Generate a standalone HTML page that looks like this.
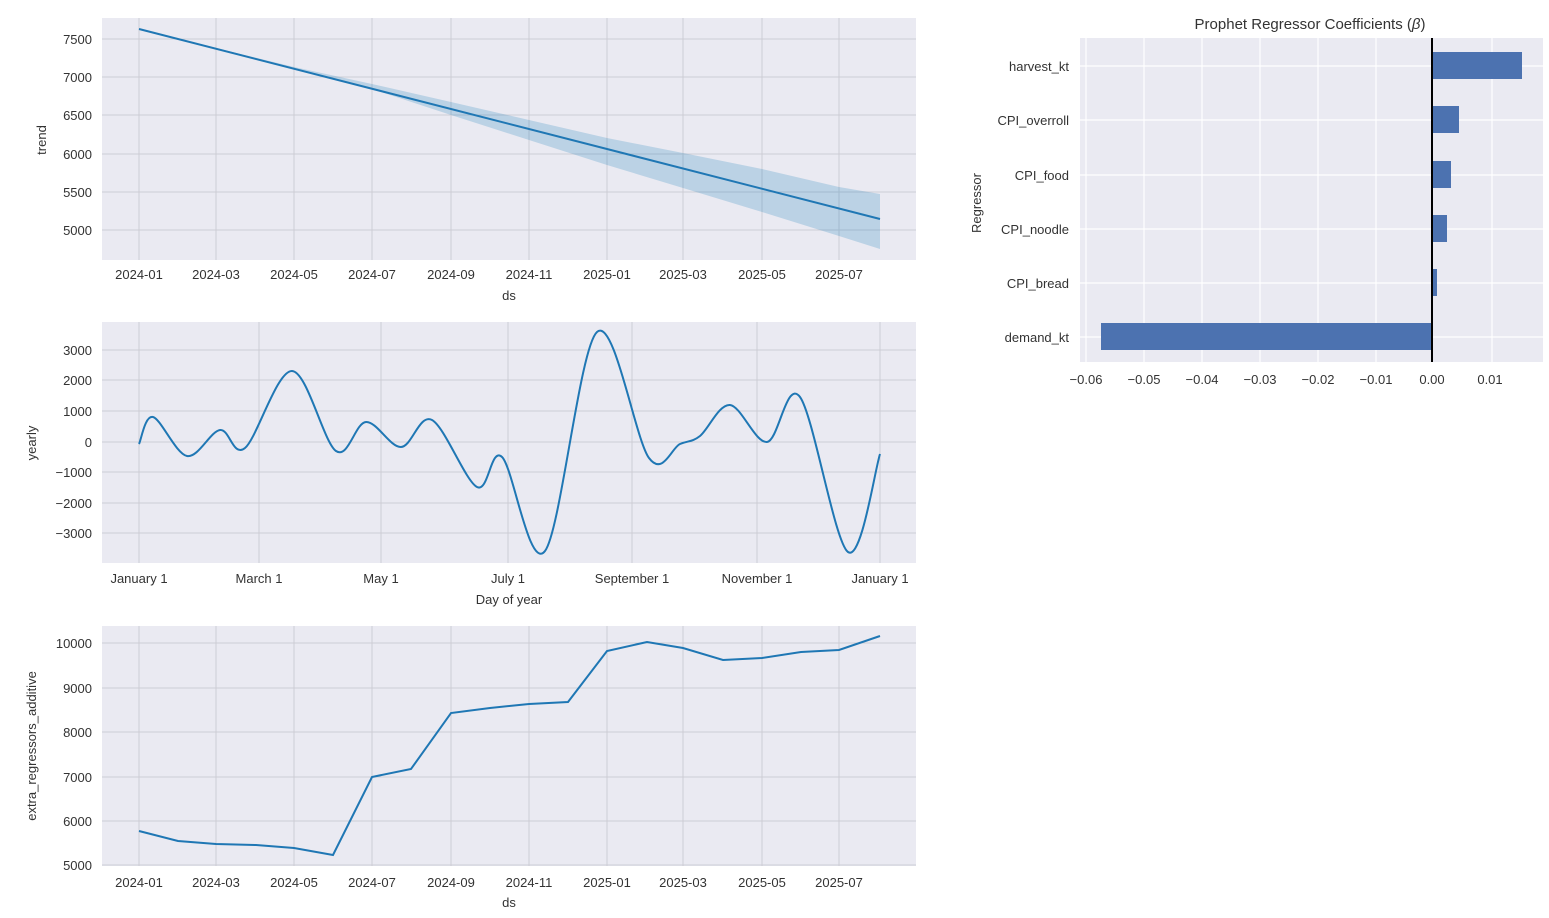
<!DOCTYPE html>
<html><head><meta charset="utf-8"><style>
body{margin:0;background:#fff;}
svg{display:block;font-family:"Liberation Sans","Noto Sans CJK JP",sans-serif;}
.t{font-size:13px;fill:#333;}
.g{stroke:#cccdd5;stroke-width:1;}
.w{stroke:#fff;stroke-width:1.2;}
</style></head><body>
<svg id="s" width="1549" height="918" viewBox="0 0 1549 918" xmlns="http://www.w3.org/2000/svg">
<!-- Panel 1 -->
<rect x="102" y="18" width="814" height="242" fill="#eaeaf2"/>
<g class="g">
<line x1="139" y1="18" x2="139" y2="260"/><line x1="216" y1="18" x2="216" y2="260"/><line x1="294" y1="18" x2="294" y2="260"/><line x1="372" y1="18" x2="372" y2="260"/><line x1="451" y1="18" x2="451" y2="260"/><line x1="529" y1="18" x2="529" y2="260"/><line x1="607" y1="18" x2="607" y2="260"/><line x1="683" y1="18" x2="683" y2="260"/><line x1="762" y1="18" x2="762" y2="260"/><line x1="839" y1="18" x2="839" y2="260"/>
<line x1="102" y1="39" x2="916" y2="39"/><line x1="102" y1="77" x2="916" y2="77"/><line x1="102" y1="115" x2="916" y2="115"/><line x1="102" y1="154" x2="916" y2="154"/><line x1="102" y1="192" x2="916" y2="192"/><line x1="102" y1="230" x2="916" y2="230"/>
</g>
<polygon points="139,29 216,48 294,67 372,84 451,102 529,120 607,138 683,153 762,169 839,187 880,194 880,249 839,236 762,212 683,188 607,165 529,140 451,115 372,89 294,69 216,49 139,29" fill="#0072b2" fill-opacity="0.2"/>
<line x1="139" y1="29" x2="880" y2="219" stroke="#1f77b4" stroke-width="2"/>
<g class="t" text-anchor="end"><text x="92" y="44">7500</text><text x="92" y="82">7000</text><text x="92" y="120">6500</text><text x="92" y="159">6000</text><text x="92" y="197">5500</text><text x="92" y="235">5000</text></g>
<g class="t" text-anchor="middle"><text x="139" y="279">2024-01</text><text x="216" y="279">2024-03</text><text x="294" y="279">2024-05</text><text x="372" y="279">2024-07</text><text x="451" y="279">2024-09</text><text x="529" y="279">2024-11</text><text x="607" y="279">2025-01</text><text x="683" y="279">2025-03</text><text x="762" y="279">2025-05</text><text x="839" y="279">2025-07</text><text x="509" y="300">ds</text></g>
<text class="t" transform="translate(46,140) rotate(-90)" text-anchor="middle">trend</text>
<!-- Panel 2 -->
<rect x="102" y="322" width="814" height="241" fill="#eaeaf2"/>
<g class="g">
<line x1="139" y1="322" x2="139" y2="563"/><line x1="259" y1="322" x2="259" y2="563"/><line x1="381" y1="322" x2="381" y2="563"/><line x1="508" y1="322" x2="508" y2="563"/><line x1="632" y1="322" x2="632" y2="563"/><line x1="757" y1="322" x2="757" y2="563"/><line x1="880" y1="322" x2="880" y2="563"/>
<line x1="102" y1="350" x2="916" y2="350"/><line x1="102" y1="380" x2="916" y2="380"/><line x1="102" y1="411" x2="916" y2="411"/><line x1="102" y1="442" x2="916" y2="442"/><line x1="102" y1="472" x2="916" y2="472"/><line x1="102" y1="503" x2="916" y2="503"/><line x1="102" y1="533" x2="916" y2="533"/>
</g>
<path id="yr" fill="none" stroke="#1f77b4" stroke-width="2"/>
<g class="t" text-anchor="end"><text x="92" y="355">3000</text><text x="92" y="385">2000</text><text x="92" y="416">1000</text><text x="92" y="447">0</text><text x="92" y="477">−1000</text><text x="92" y="508">−2000</text><text x="92" y="538">−3000</text></g>
<g class="t" text-anchor="middle"><text x="139" y="583">January 1</text><text x="259" y="583">March 1</text><text x="381" y="583">May 1</text><text x="508" y="583">July 1</text><text x="632" y="583">September 1</text><text x="757" y="583">November 1</text><text x="880" y="583">January 1</text><text x="509" y="604">Day of year</text></g>
<text class="t" transform="translate(36,443) rotate(-90)" text-anchor="middle">yearly</text>
<!-- Panel 3 -->
<rect x="102" y="626" width="814" height="240" fill="#eaeaf2"/>
<g class="g">
<line x1="139" y1="626" x2="139" y2="866"/><line x1="216" y1="626" x2="216" y2="866"/><line x1="294" y1="626" x2="294" y2="866"/><line x1="372" y1="626" x2="372" y2="866"/><line x1="451" y1="626" x2="451" y2="866"/><line x1="529" y1="626" x2="529" y2="866"/><line x1="607" y1="626" x2="607" y2="866"/><line x1="683" y1="626" x2="683" y2="866"/><line x1="762" y1="626" x2="762" y2="866"/><line x1="839" y1="626" x2="839" y2="866"/>
<line x1="102" y1="643" x2="916" y2="643"/><line x1="102" y1="688" x2="916" y2="688"/><line x1="102" y1="732" x2="916" y2="732"/><line x1="102" y1="777" x2="916" y2="777"/><line x1="102" y1="821" x2="916" y2="821"/><line x1="102" y1="865" x2="916" y2="865"/>
</g>
<polyline fill="none" stroke="#1f77b4" stroke-width="2" points="139,831 178,841 216,844 256,845 294,848 333,855 372,777 411,769 451,713 490,708 529,704 568,702 607,651 647,642 683,648 723,660 762,658 801,652 839,650 880,636"/>
<g class="t" text-anchor="end"><text x="92" y="648">10000</text><text x="92" y="693">9000</text><text x="92" y="737">8000</text><text x="92" y="782">7000</text><text x="92" y="826">6000</text><text x="92" y="870">5000</text></g>
<g class="t" text-anchor="middle"><text x="139" y="887">2024-01</text><text x="216" y="887">2024-03</text><text x="294" y="887">2024-05</text><text x="372" y="887">2024-07</text><text x="451" y="887">2024-09</text><text x="529" y="887">2024-11</text><text x="607" y="887">2025-01</text><text x="683" y="887">2025-03</text><text x="762" y="887">2025-05</text><text x="839" y="887">2025-07</text><text x="509" y="907">ds</text></g>
<text class="t" transform="translate(36,746) rotate(-90)" text-anchor="middle">extra_regressors_additive</text>
<!-- Right panel -->
<rect x="1080" y="38" width="463" height="324" fill="#eaeaf2"/>
<g class="w">
<line x1="1086" y1="38" x2="1086" y2="362"/><line x1="1144" y1="38" x2="1144" y2="362"/><line x1="1202" y1="38" x2="1202" y2="362"/><line x1="1260" y1="38" x2="1260" y2="362"/><line x1="1318" y1="38" x2="1318" y2="362"/><line x1="1376" y1="38" x2="1376" y2="362"/><line x1="1492" y1="38" x2="1492" y2="362"/>
<line x1="1080" y1="66" x2="1543" y2="66"/><line x1="1080" y1="120" x2="1543" y2="120"/><line x1="1080" y1="175" x2="1543" y2="175"/><line x1="1080" y1="229" x2="1543" y2="229"/><line x1="1080" y1="283" x2="1543" y2="283"/><line x1="1080" y1="337" x2="1543" y2="337"/>
</g>
<g fill="#4c72b0">
<rect x="1432" y="52" width="90" height="27"/><rect x="1432" y="106" width="27" height="27"/><rect x="1432" y="161" width="19" height="27"/><rect x="1432" y="215" width="15" height="27"/><rect x="1432" y="269" width="5" height="27"/><rect x="1101" y="323" width="331" height="27"/>
</g>
<line x1="1432" y1="38" x2="1432" y2="362" stroke="#000" stroke-width="2"/>
<text x="1310" y="29" text-anchor="middle" style="font-size:15px;fill:#333">Prophet Regressor Coefficients (<tspan font-style="italic">β</tspan>)</text>
<g class="t" text-anchor="end"><text x="1069" y="71">harvest_kt</text><text x="1069" y="125">CPI_overroll</text><text x="1069" y="180">CPI_food</text><text x="1069" y="234">CPI_noodle</text><text x="1069" y="288">CPI_bread</text><text x="1069" y="342">demand_kt</text></g>
<g class="t" text-anchor="middle"><text x="1086" y="384">−0.06</text><text x="1144" y="384">−0.05</text><text x="1202" y="384">−0.04</text><text x="1260" y="384">−0.03</text><text x="1318" y="384">−0.02</text><text x="1376" y="384">−0.01</text><text x="1432" y="384">0.00</text><text x="1490" y="384">0.01</text></g>
<text class="t" transform="translate(981,203) rotate(-90)" text-anchor="middle">Regressor</text>
</svg>
<script>
var p=[[139,444],[153,417],[187,456],[220,430],[245,448],[292,371],[336,451],[366,422],[401,447],[432,420],[477,487],[502,457],[545,551],[597,332],[649,458],[680,444],[700,436],[730,405],[767,442],[800,397],[848,552],[880,454]];
var d="M"+p[0][0]+","+p[0][1];
for(var i=0;i<p.length-1;i++){var a=p[Math.max(i-1,0)],b=p[i],c=p[i+1],e=p[Math.min(i+2,p.length-1)];
var c1x=b[0]+(c[0]-a[0])/6,c1y=b[1]+(c[1]-a[1])/6,c2x=c[0]-(e[0]-b[0])/6,c2y=c[1]-(e[1]-b[1])/6;
d+=" C"+c1x+","+c1y+" "+c2x+","+c2y+" "+c[0]+","+c[1];}
document.getElementById("yr").setAttribute("d",d);
</script>
</body></html>
